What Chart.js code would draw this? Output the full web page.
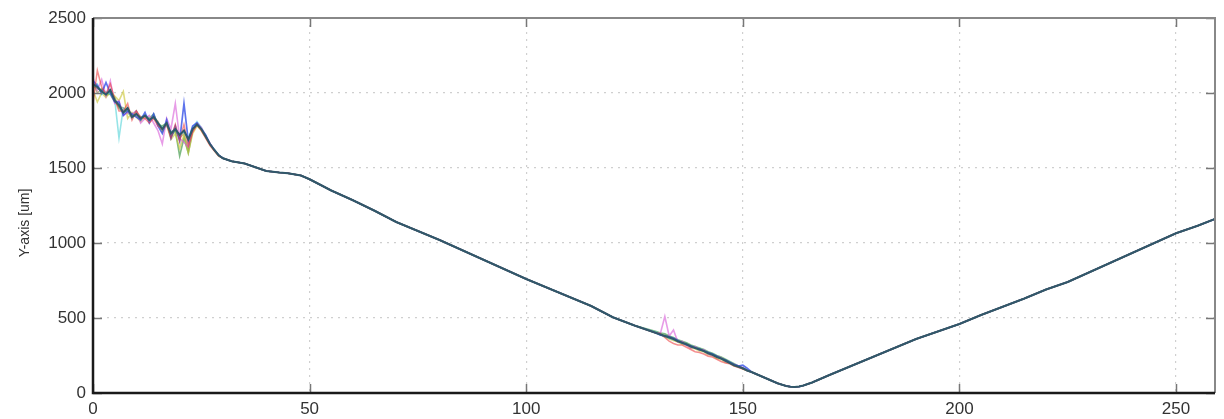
<!DOCTYPE html>
<html>
<head>
<meta charset="utf-8">
<script src="https://cdn.jsdelivr.net/npm/chart.js@4.4.1/dist/chart.umd.min.js"></script>
<style>
  html, body { margin: 0; padding: 0; background: #fff; }
  #wrap { width: 1224px; height: 419px; }
</style>
</head>
<body>
<div id="wrap"><canvas id="chartTrace" width="1224" height="419"></canvas></div>
<script>
// ---- data ----
// noisy start (x = 0..30)
const noiseX1 = [0,1,2,3,4,5,6,7,8,9,10,11,12,13,14,15,16,17,18,19,20,21,22,23,24,25,26,27,28,29,30];
// noisy patch before the minimum (x = 130..152)
const noiseX2 = [130,131,132,133,134,135,136,137,138,139,140,141,142,143,144,145,146,147,148,149,150,151,152];

// shared smooth stretches (all traces lie on top of each other here)
const smoothX1 = [32,35,38,40,43,45,48,50,52,55,60,65,70,75,80,85,90,95,100,105,110,115,120,125];
const smoothY1 = [1545,1530,1500,1480,1470,1465,1450,1425,1395,1350,1285,1215,1140,1080,1020,955,890,825,760,700,640,580,505,450];
const smoothX2 = [154,156,158,160,161,162,163,164,166,168,170,175,180,185,190,195,200,205,210,215,220,225,230,235,240,245,250,255,259];
const smoothY2 = [115,90,65,47,42,40,43,50,70,95,120,180,240,300,360,410,460,520,575,630,690,740,805,870,935,1000,1065,1115,1160];

const mainNoise1    = [2060,2040,2010,1990,2020,1950,1920,1870,1900,1840,1860,1830,1850,1820,1840,1800,1760,1800,1730,1760,1720,1750,1690,1760,1790,1760,1710,1660,1620,1585,1565];
const redNoise1     = [1930,2150,2040,1990,2060,1960,1880,1880,1930,1820,1880,1840,1830,1800,1830,1780,1760,1790,1700,1790,1680,1790,1650,1740,1790,1750,1700,1650,1615,1580,1565];
const blueNoise1    = [2080,2050,2000,2070,2000,1940,1940,1850,1880,1860,1840,1820,1870,1800,1860,1780,1730,1820,1700,1780,1680,1930,1680,1780,1800,1760,1720,1660,1620,1585,1565];
const magentaNoise1 = [2100,2020,2090,1980,2080,1930,1950,1850,1870,1860,1880,1800,1830,1850,1800,1750,1660,1830,1760,1930,1700,1670,1640,1750,1800,1770,1715,1665,1620,1585,1565];
const cyanNoise1    = [2040,2060,1990,2010,1990,1960,1700,1900,1880,1830,1860,1840,1850,1830,1830,1800,1770,1780,1740,1760,1720,1740,1700,1770,1810,1770,1720,1660,1625,1585,1565];
const yellowNoise1  = [2020,1940,2000,1970,2010,1980,1950,2010,1830,1870,1840,1810,1850,1830,1840,1800,1740,1790,1690,1730,1630,1720,1600,1730,1780,1750,1705,1655,1615,1580,1565];
const greenNoise1   = [2050,2030,2020,1980,2000,1970,1900,1870,1890,1850,1880,1820,1850,1830,1860,1790,1780,1800,1710,1750,1580,1700,1600,1750,1790,1760,1710,1660,1620,1585,1565];
const oliveNoise1   = [2070,2000,2030,2000,1990,1940,1910,1900,1870,1840,1860,1840,1840,1820,1840,1810,1750,1790,1740,1750,1700,1730,1620,1760,1790,1760,1715,1660,1620,1585,1565];

const mainNoise2    = [400,390,380,370,360,345,335,325,310,300,290,280,265,255,240,230,215,200,185,175,165,150,140];
const redNoise2     = [400,395,370,345,330,320,320,305,290,275,270,260,245,240,225,210,200,195,180,170,160,150,140];
const blueNoise2    = [400,385,380,375,365,350,335,320,315,300,295,280,270,260,245,230,220,205,190,180,185,165,140];
const magentaNoise2 = [400,400,510,380,420,340,345,320,300,310,285,290,260,250,245,235,210,200,190,180,170,150,140];
const cyanNoise2    = [405,390,375,365,355,350,330,330,305,305,285,285,265,260,240,230,215,205,185,180,165,150,140];
const yellowNoise2  = [400,390,375,360,350,340,325,320,300,295,280,275,255,250,230,225,205,200,180,175,160,150,140];
const greenNoise2   = [410,400,395,380,370,355,345,335,320,310,300,290,275,265,250,240,225,210,195,180,165,150,140];
const oliveNoise2   = [400,390,385,375,355,345,330,330,310,305,290,280,270,255,245,230,220,200,190,175,165,150,140];

const xTicks = [0, 50, 100, 150, 200, 250];
const yTicks = [0, 500, 1000, 1500, 2000, 2500];
const yTitle = 'Y-axis [um]';

// ---- build one trace from its own noisy parts plus the shared stretches ----
function pairs(xs, ys) {
    return xs.map((x, i) => ({ x: x, y: ys[i] }));
}

function trace(n1, n2) {
    return [].concat(
        pairs(noiseX1, n1),
        pairs(smoothX1, smoothY1),
        pairs(noiseX2, n2),
        pairs(smoothX2, smoothY2)
    );
}

const traces = [
    { label: 'main',    n1: mainNoise1,    n2: mainNoise2,    color: '#30596a',                 width: 2 },
    { label: 'red',     n1: redNoise1,     n2: redNoise2,     color: 'rgba(235, 50, 50, 0.55)',  width: 1.5 },
    { label: 'blue',    n1: blueNoise1,    n2: blueNoise2,    color: 'rgba(40, 70, 230, 0.75)',  width: 1.7 },
    { label: 'magenta', n1: magentaNoise1, n2: magentaNoise2, color: 'rgba(215, 90, 215, 0.6)',  width: 1.6 },
    { label: 'cyan',    n1: cyanNoise1,    n2: cyanNoise2,    color: 'rgba(80, 210, 215, 0.6)',  width: 1.6 },
    { label: 'yellow',  n1: yellowNoise1,  n2: yellowNoise2,  color: 'rgba(205, 200, 60, 0.65)', width: 1.6 },
    { label: 'green',   n1: greenNoise1,   n2: greenNoise2,   color: 'rgba(40, 140, 50, 0.6)',   width: 1.6 },
    { label: 'olive',   n1: oliveNoise1,   n2: oliveNoise2,   color: 'rgba(130, 120, 40, 0.55)', width: 1.5 }
];

const datasets = traces.map((t, i) => ({
    label: t.label,
    data: trace(t.n1, t.n2),
    borderColor: t.color,
    backgroundColor: t.color,
    borderWidth: t.width,
    pointRadius: 0,
    tension: 0,
    fill: false,
    order: i === 0 ? 0 : 1
}));

// frame, inward ticks and rotated y title (matlab-like box)
const framePlugin = {
    id: 'frame',
    afterDraw(chart) {
        const { ctx, chartArea: a, scales } = chart;
        ctx.save();
        // inward tick marks
        ctx.strokeStyle = '#777';
        ctx.lineWidth = 1.5;
        const len = 9;
        xTicks.forEach(v => {
            const px = Math.round(scales.x.getPixelForValue(v)) + 0.5;
            ctx.beginPath();
            ctx.moveTo(px, a.bottom); ctx.lineTo(px, a.bottom - len);
            ctx.moveTo(px, a.top); ctx.lineTo(px, a.top + len);
            ctx.stroke();
        });
        yTicks.forEach(v => {
            const py = Math.round(scales.y.getPixelForValue(v)) + 0.5;
            ctx.beginPath();
            ctx.moveTo(a.left, py); ctx.lineTo(a.left + len, py);
            ctx.moveTo(a.right, py); ctx.lineTo(a.right - len, py);
            ctx.stroke();
        });
        // top / right edges (gray)
        ctx.strokeStyle = '#888';
        ctx.lineWidth = 2;
        ctx.beginPath();
        ctx.moveTo(a.left, a.top); ctx.lineTo(a.right, a.top); ctx.lineTo(a.right, a.bottom);
        ctx.stroke();
        // left / bottom edges (dark)
        ctx.strokeStyle = '#1a1a1a';
        ctx.lineWidth = 2.5;
        ctx.beginPath();
        ctx.moveTo(a.left, a.top); ctx.lineTo(a.left, a.bottom); ctx.lineTo(a.right, a.bottom);
        ctx.stroke();
        // y title
        ctx.fillStyle = '#333';
        ctx.font = '14px "Liberation Sans", Arial, sans-serif';
        ctx.textAlign = 'center';
        ctx.textBaseline = 'middle';
        ctx.translate(25, 223);
        ctx.rotate(-Math.PI / 2);
        ctx.fillText(yTitle, 0, 0);
        ctx.restore();
    }
};

const tickFont = { family: '"Liberation Sans", Arial, sans-serif', size: 17 };

new Chart(document.getElementById('chartTrace'), {
    type: 'line',
    data: { datasets: datasets },
    options: {
        responsive: false,
        animation: false,
        devicePixelRatio: 1,
        layout: { padding: { top: 18, right: 9, left: 0, bottom: 0 } },
        plugins: {
            legend: { display: false },
            tooltip: { enabled: false }
        },
        scales: {
            x: {
                type: 'linear',
                min: 0,
                max: 259,
                afterFit(scale) { scale.height = 26; },
                afterBuildTicks(scale) { scale.ticks = xTicks.map(v => ({ value: v })); },
                grid: { color: '#cfcfcf', lineWidth: 1.2, drawTicks: false },
                border: { display: false, dash: [2, 5] },
                ticks: {
                    color: '#333', font: tickFont, padding: 6, maxRotation: 0,
                    callback: v => String(v)
                }
            },
            y: {
                type: 'linear',
                min: 0,
                max: 2500,
                afterFit(scale) { scale.width = 93; },
                afterBuildTicks(scale) { scale.ticks = yTicks.map(v => ({ value: v })); },
                grid: { color: '#cfcfcf', lineWidth: 1.2, drawTicks: false },
                border: { display: false, dash: [2, 5] },
                ticks: {
                    color: '#333', font: tickFont, padding: 7,
                    callback: v => String(v)
                }
            }
        }
    },
    plugins: [framePlugin]
});
</script>
</body>
</html>
